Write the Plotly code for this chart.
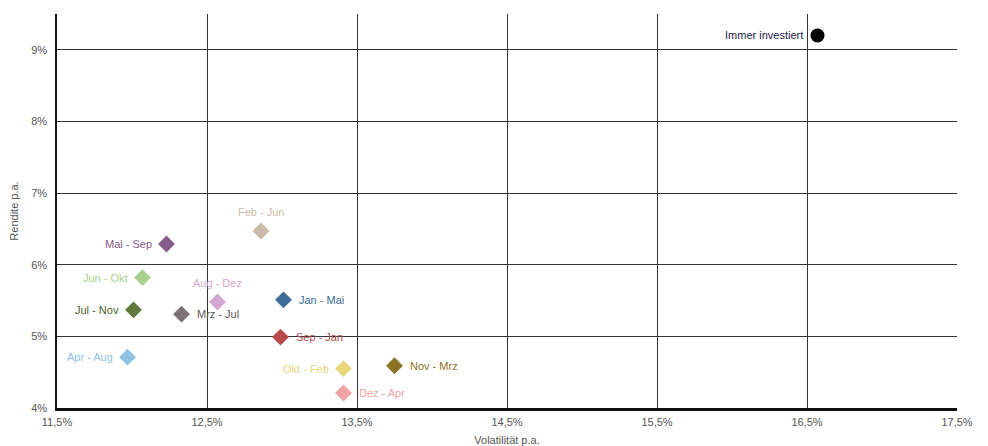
import plotly.graph_objects as go

labels = ["Immer investiert", "Feb - Jun", "Mai - Sep", "Jun - Okt", "Aug - Dez", "Jul - Nov",
          "Mrz - Jul", "Jan - Mai", "Sep - Jan", "Apr - Aug", "Okt - Feb", "Nov - Mrz", "Dez - Apr"]
volatility = [16.57, 12.86, 12.23, 12.07, 12.57, 12.01, 12.33, 13.01, 12.99, 11.97, 13.41, 13.75, 13.41]
returns = [9.2, 6.47, 6.29, 5.82, 5.48, 5.37, 5.31, 5.51, 4.99, 4.71, 4.55, 4.59, 4.21]
colors = ["#000000", "#cbbba9", "#875b89", "#a9d18e", "#d4a6d2", "#5f7a3b", "#7d7272",
          "#3b6d98", "#b84a4c", "#8fc3e2", "#e6d77c", "#8c7326", "#f0a3a3"]
text_colors = ["#1a1a4a", "#cbbba9", "#875b89", "#a9d18e", "#d4a6d2", "#4a5f2b", "#5d5454",
               "#3b6d98", "#b84a4c", "#8fc3e2", "#e6d77c", "#8c7326", "#f0a3a3"]
label_side = ["left", "top", "left", "left", "top", "left",
              "right", "right", "right", "left", "left", "right", "right"]
symbols = ["circle"] + ["diamond"] * 12
sizes = [14] + [13] * 12

x_ticks = [11.5, 12.5, 13.5, 14.5, 15.5, 16.5, 17.5]
x_ticktext = ["11,5%", "12,5%", "13,5%", "14,5%", "15,5%", "16,5%", "17,5%"]
y_ticks = [4, 5, 6, 7, 8, 9]
y_ticktext = ["4%", "5%", "6%", "7%", "8%", "9%"]

FONT = "Liberation Sans, Arial, sans-serif"

fig = go.Figure()
fig.add_trace(go.Scatter(
    x=volatility, y=returns, mode="markers",
    marker=dict(color=colors, symbol=symbols, size=sizes, opacity=1, line=dict(width=0)),
    cliponaxis=False, showlegend=False, hoverinfo="skip",
))

for lab, xv, yv, side, tc in zip(labels, volatility, returns, label_side, text_colors):
    if side == "left":
        kw = dict(xanchor="right", yanchor="middle", xshift=-13, yshift=0)
    elif side == "right":
        kw = dict(xanchor="left", yanchor="middle", xshift=13, yshift=0)
    else:
        kw = dict(xanchor="center", yanchor="middle", xshift=0, yshift=19)
    fig.add_annotation(x=xv, y=yv, text=lab, showarrow=False,
                       font=dict(color=tc, size=11, family=FONT), **kw)

fig.update_layout(
    width=988, height=446,
    margin=dict(l=49, r=39, t=6, b=46, autoexpand=False),
    paper_bgcolor="white", plot_bgcolor="white",
    font=dict(family=FONT, color="#555555", size=11),
    xaxis=dict(
        range=[11.5, 17.5], tickvals=x_ticks, ticktext=x_ticktext,
        showgrid=True, gridcolor="#333333", gridwidth=1,
        showline=True, linecolor="#111111", linewidth=2.5,
        zeroline=False, ticks="", automargin=False, ticklabelstandoff=2,
        title=dict(text="Volatilität p.a.", font=dict(size=11, color="#555555"), standoff=10),
        tickfont=dict(size=11, color="#555555"),
    ),
    yaxis=dict(
        range=[4, 9.5], tickvals=y_ticks, ticktext=y_ticktext,
        showgrid=True, gridcolor="#333333", gridwidth=1,
        showline=True, linecolor="#111111", linewidth=1.5,
        zeroline=False, ticks="", automargin=False, ticklabelstandoff=6,
        title=dict(text="Rendite p.a.", font=dict(size=11, color="#555555"), standoff=10),
        tickfont=dict(size=11, color="#555555"),
    ),
)

fig.write_html("out.html")
